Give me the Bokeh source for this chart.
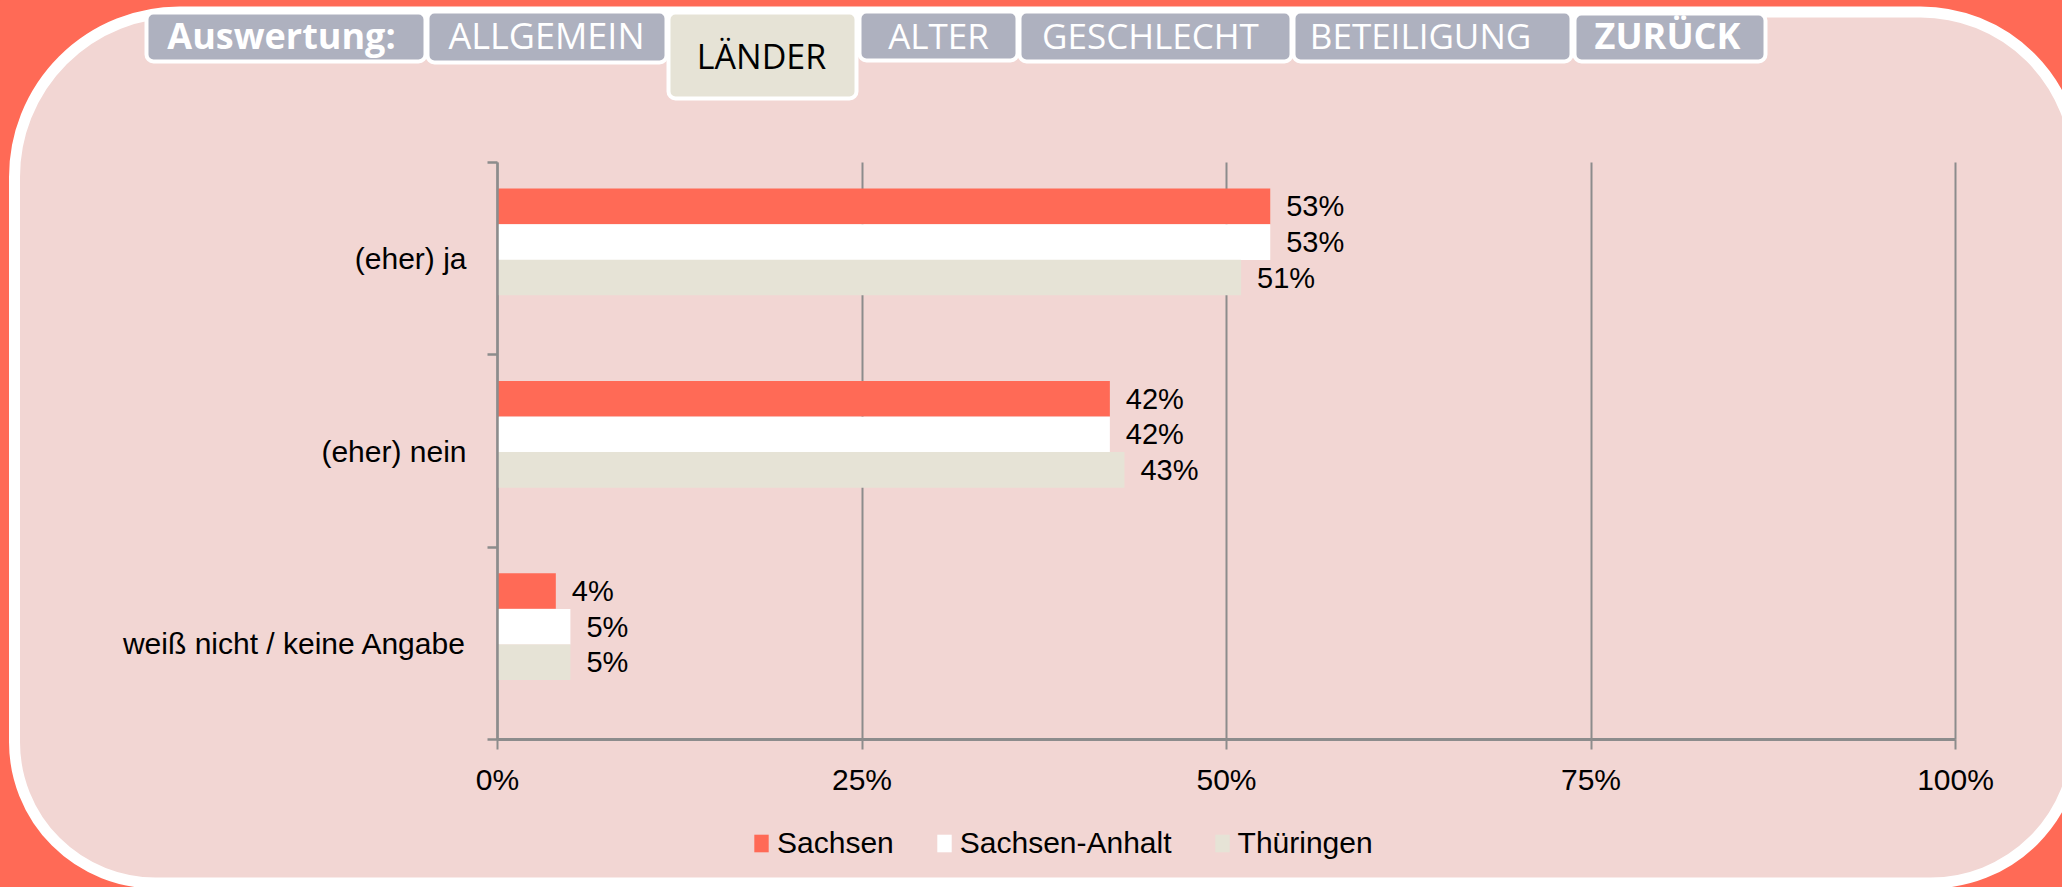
from bokeh.plotting import figure
from bokeh.models import (Range1d, ColumnDataSource, LinearAxis,
                          FixedTicker, NumeralTickFormatter, BoxAnnotation, Label)
from bokeh.transform import dodge
from bokeh.core.properties import value
from bokeh.embed import file_html
from bokeh.resources import INLINE

# ---------------- data ----------------
categories = ["(eher) ja", "(eher) nein", "weiß nicht / keine Angabe"]
series_names = ["Sachsen", "Sachsen-Anhalt", "Thüringen"]
sachsen = [0.53, 0.42, 0.04]
sachsen_anhalt = [0.53, 0.42, 0.05]
thueringen = [0.51, 0.43, 0.05]
x_ticks = [0, 0.25, 0.5, 0.75, 1.0]
tab_labels = ["Auswertung:", "ALLGEMEIN", "LÄNDER", "ALTER", "GESCHLECHT", "BETEILIGUNG", "ZURÜCK"]

# ---------------- styles / layout ----------------
ORANGE = "#FF6A56"
PINK = "#F2D6D3"
BEIGE = "#E6E3D6"
TABGRAY = "#AEB1BF"
GRAY = "#8C8C8C"
FONT = "Liberation Sans"
TABFONT = "Open Sans"
series_colors = [ORANGE, "#FFFFFF", BEIGE]
series_offsets = [0.272, 0.086, -0.098]
bar_height = 0.185

W, H = 2062, 887
OFF = 0  # offset of the canvas on the page
C_L, C_T = OFF, OFF                    # canvas left/top in page pixels
C_R, C_B = OFF + W, OFF + H            # canvas right/bottom in page pixels
FL, FR, FT, FB = 497, 1955, 162, 739   # data area in page pixels

# tab geometry (page pixels): left, right, top, bottom, text x, text y
tab_geom = [
    (146, 425, 12, 61, 281, 35),
    (427, 666, 11, 62, 546, 35),
    (668, 856, 12, 98, 761, 55),
    (859, 1017, 11, 60, 938, 35),
    (1019, 1291, 11, 61, 1150, 35),
    (1293, 1571, 11, 61, 1420, 35),
    (1574, 1765, 13, 61, 1667, 35),
]
tab_fill = [TABGRAY, TABGRAY, BEIGE, TABGRAY, TABGRAY, TABGRAY, TABGRAY]
tab_text_color = ["white", "white", "black", "white", "white", "white", "white"]
tab_bold = [True, False, False, False, False, False, True]
tab_size = ["36px", "36px", "34px", "35px", "35px", "35px", "36px"]

n = len(categories)
centers = [n - 1 - i + 0.5 for i in range(n)]  # category band centres, first on top

src = ColumnDataSource(dict(
    yc=centers,
    s0=sachsen, s1=sachsen_anhalt, s2=thueringen,
    l0=[f"{round(v*100)}%" for v in sachsen],
    l1=[f"{round(v*100)}%" for v in sachsen_anhalt],
    l2=[f"{round(v*100)}%" for v in thueringen],
))

# ranges so that the data area sits at the wanted place of the full-canvas frame
xu = (FR - FL) / 1.0
yu = (FB - FT) / n
x_range = Range1d((C_L - FL) / xu, (C_R - FL) / xu)
y_range = Range1d(-(C_B - FB) / yu, n + (FT - C_T) / yu)

p = figure(width=W, height=H, x_range=x_range, y_range=y_range,
           output_backend="svg", toolbar_location=None,
           x_axis_location=None, y_axis_location=None,
           min_border=0, min_border_left=0, min_border_right=0,
           min_border_top=0, min_border_bottom=0,
           border_fill_color=ORANGE, background_fill_color=ORANGE, outline_line_color=None)
p.xgrid.visible = False
p.ygrid.visible = False

# pixel coordinate system for decoration
p.extra_x_ranges = {"px": Range1d(C_L, C_R)}
p.extra_y_ranges = {"px": Range1d(C_B, C_T)}

# big rounded panel
panel = BoxAnnotation(left=14, right=2076, top=11.5, bottom=882.5,
                      x_range_name="px", y_range_name="px", level="image",
                      fill_color=PINK, fill_alpha=1.0, line_color="white", line_alpha=1.0,
                      line_width=11, border_radius=(165, 156, 146, 141))
p.add_layout(panel)

for i, name in enumerate(tab_labels):
    l, r, t, b, tx, ty = tab_geom[i]
    box = BoxAnnotation(left=l, right=r, top=t, bottom=b,
                        x_range_name="px", y_range_name="px", level="overlay",
                        fill_color=tab_fill[i], fill_alpha=1.0, line_color="white", line_alpha=1.0,
                        line_width=4, border_radius=7)
    p.add_layout(box)
    lab = Label(x=tx, y=ty, x_range_name="px", y_range_name="px", text=name,
                text_align="center", text_baseline="middle", text_font=TABFONT,
                text_font_size=tab_size[i], text_color=tab_text_color[i],
                text_font_style="bold" if tab_bold[i] else "normal", level="overlay")
    p.add_layout(lab)

# vertical grid lines: long inward ticks of an axis drawn under the bars
grid_axis = LinearAxis(fixed_location=0, bounds=(0, 1), ticker=FixedTicker(ticks=x_ticks),
                       level="underlay", axis_line_color=None,
                       major_tick_in=int(FB - FT), major_tick_out=0,
                       minor_tick_in=0, minor_tick_out=0,
                       major_tick_line_color=GRAY, major_tick_line_width=2,
                       major_label_text_font_size="0px",
                       major_label_overrides={t: "" for t in x_ticks})
p.add_layout(grid_axis, "below")

# bars
cols = ["s0", "s1", "s2"]
lcols = ["l0", "l1", "l2"]
for i in range(3):
    yv = dodge("yc", series_offsets[i])
    p.hbar(y=yv, right=cols[i], left=0, height=bar_height, source=src,
           fill_color=series_colors[i], line_color=None, legend_label=series_names[i])
    p.text(x=cols[i], y=yv, text=lcols[i], source=src, x_offset=16,
           text_align="left", text_baseline="middle", text_font=value(FONT),
           text_font_size=value("29px"), text_color="black")

# x axis
xa = LinearAxis(fixed_location=0, bounds=(0, 1), ticker=FixedTicker(ticks=x_ticks),
                formatter=NumeralTickFormatter(format="0%"),
                axis_line_color=GRAY, axis_line_width=3,
                major_tick_line_color=GRAY, major_tick_line_width=2,
                major_tick_out=10, major_tick_in=0, minor_tick_out=0, minor_tick_in=0,
                major_label_standoff=13, major_label_text_font=FONT,
                major_label_text_font_size="30px", major_label_text_color="black")
p.add_layout(xa, "below")

# y axes: boundary ticks + category labels
ba = LinearAxis(fixed_location=0, bounds=(0, n), ticker=FixedTicker(ticks=list(range(n + 1))),
                major_tick_out=10, major_tick_in=0, minor_tick_out=0, minor_tick_in=0,
                major_tick_line_color=GRAY, major_tick_line_width=2.5,
                axis_line_color=GRAY, axis_line_width=2.5,
                major_label_text_font_size="0px", major_label_standoff=0,
                major_label_overrides={k: "" for k in range(n + 1)})
p.add_layout(ba, "left")
ca = LinearAxis(fixed_location=0, bounds=(0, n), ticker=FixedTicker(ticks=centers),
                major_label_overrides={c: name for c, name in zip(centers, categories)},
                major_tick_out=0, major_tick_in=0, minor_tick_out=0, minor_tick_in=0,
                axis_line_color=None, major_tick_line_color=None,
                major_label_standoff=31, major_label_text_font=FONT,
                major_label_text_font_size="30px", major_label_text_color="black")
p.add_layout(ca, "left")

# legend
lg = p.legend[0]
lg.orientation = "horizontal"
lg.location = (752 - C_L, C_B - 860)
lg.background_fill_alpha = 0
lg.border_line_color = None
lg.label_text_font = FONT
lg.label_text_font_size = "30px"
lg.label_text_color = "black"
lg.glyph_width = 18
lg.glyph_height = 22
lg.label_standoff = 7
lg.spacing = 41
lg.padding = 0
lg.margin = 0

try:
    from bokeh.models import GlobalInlineStyleSheet
    p.stylesheets = [GlobalInlineStyleSheet(css="body{background:%s;}" % ORANGE)]
except Exception:
    pass

open("out.html", "w").write(file_html(p, INLINE))
